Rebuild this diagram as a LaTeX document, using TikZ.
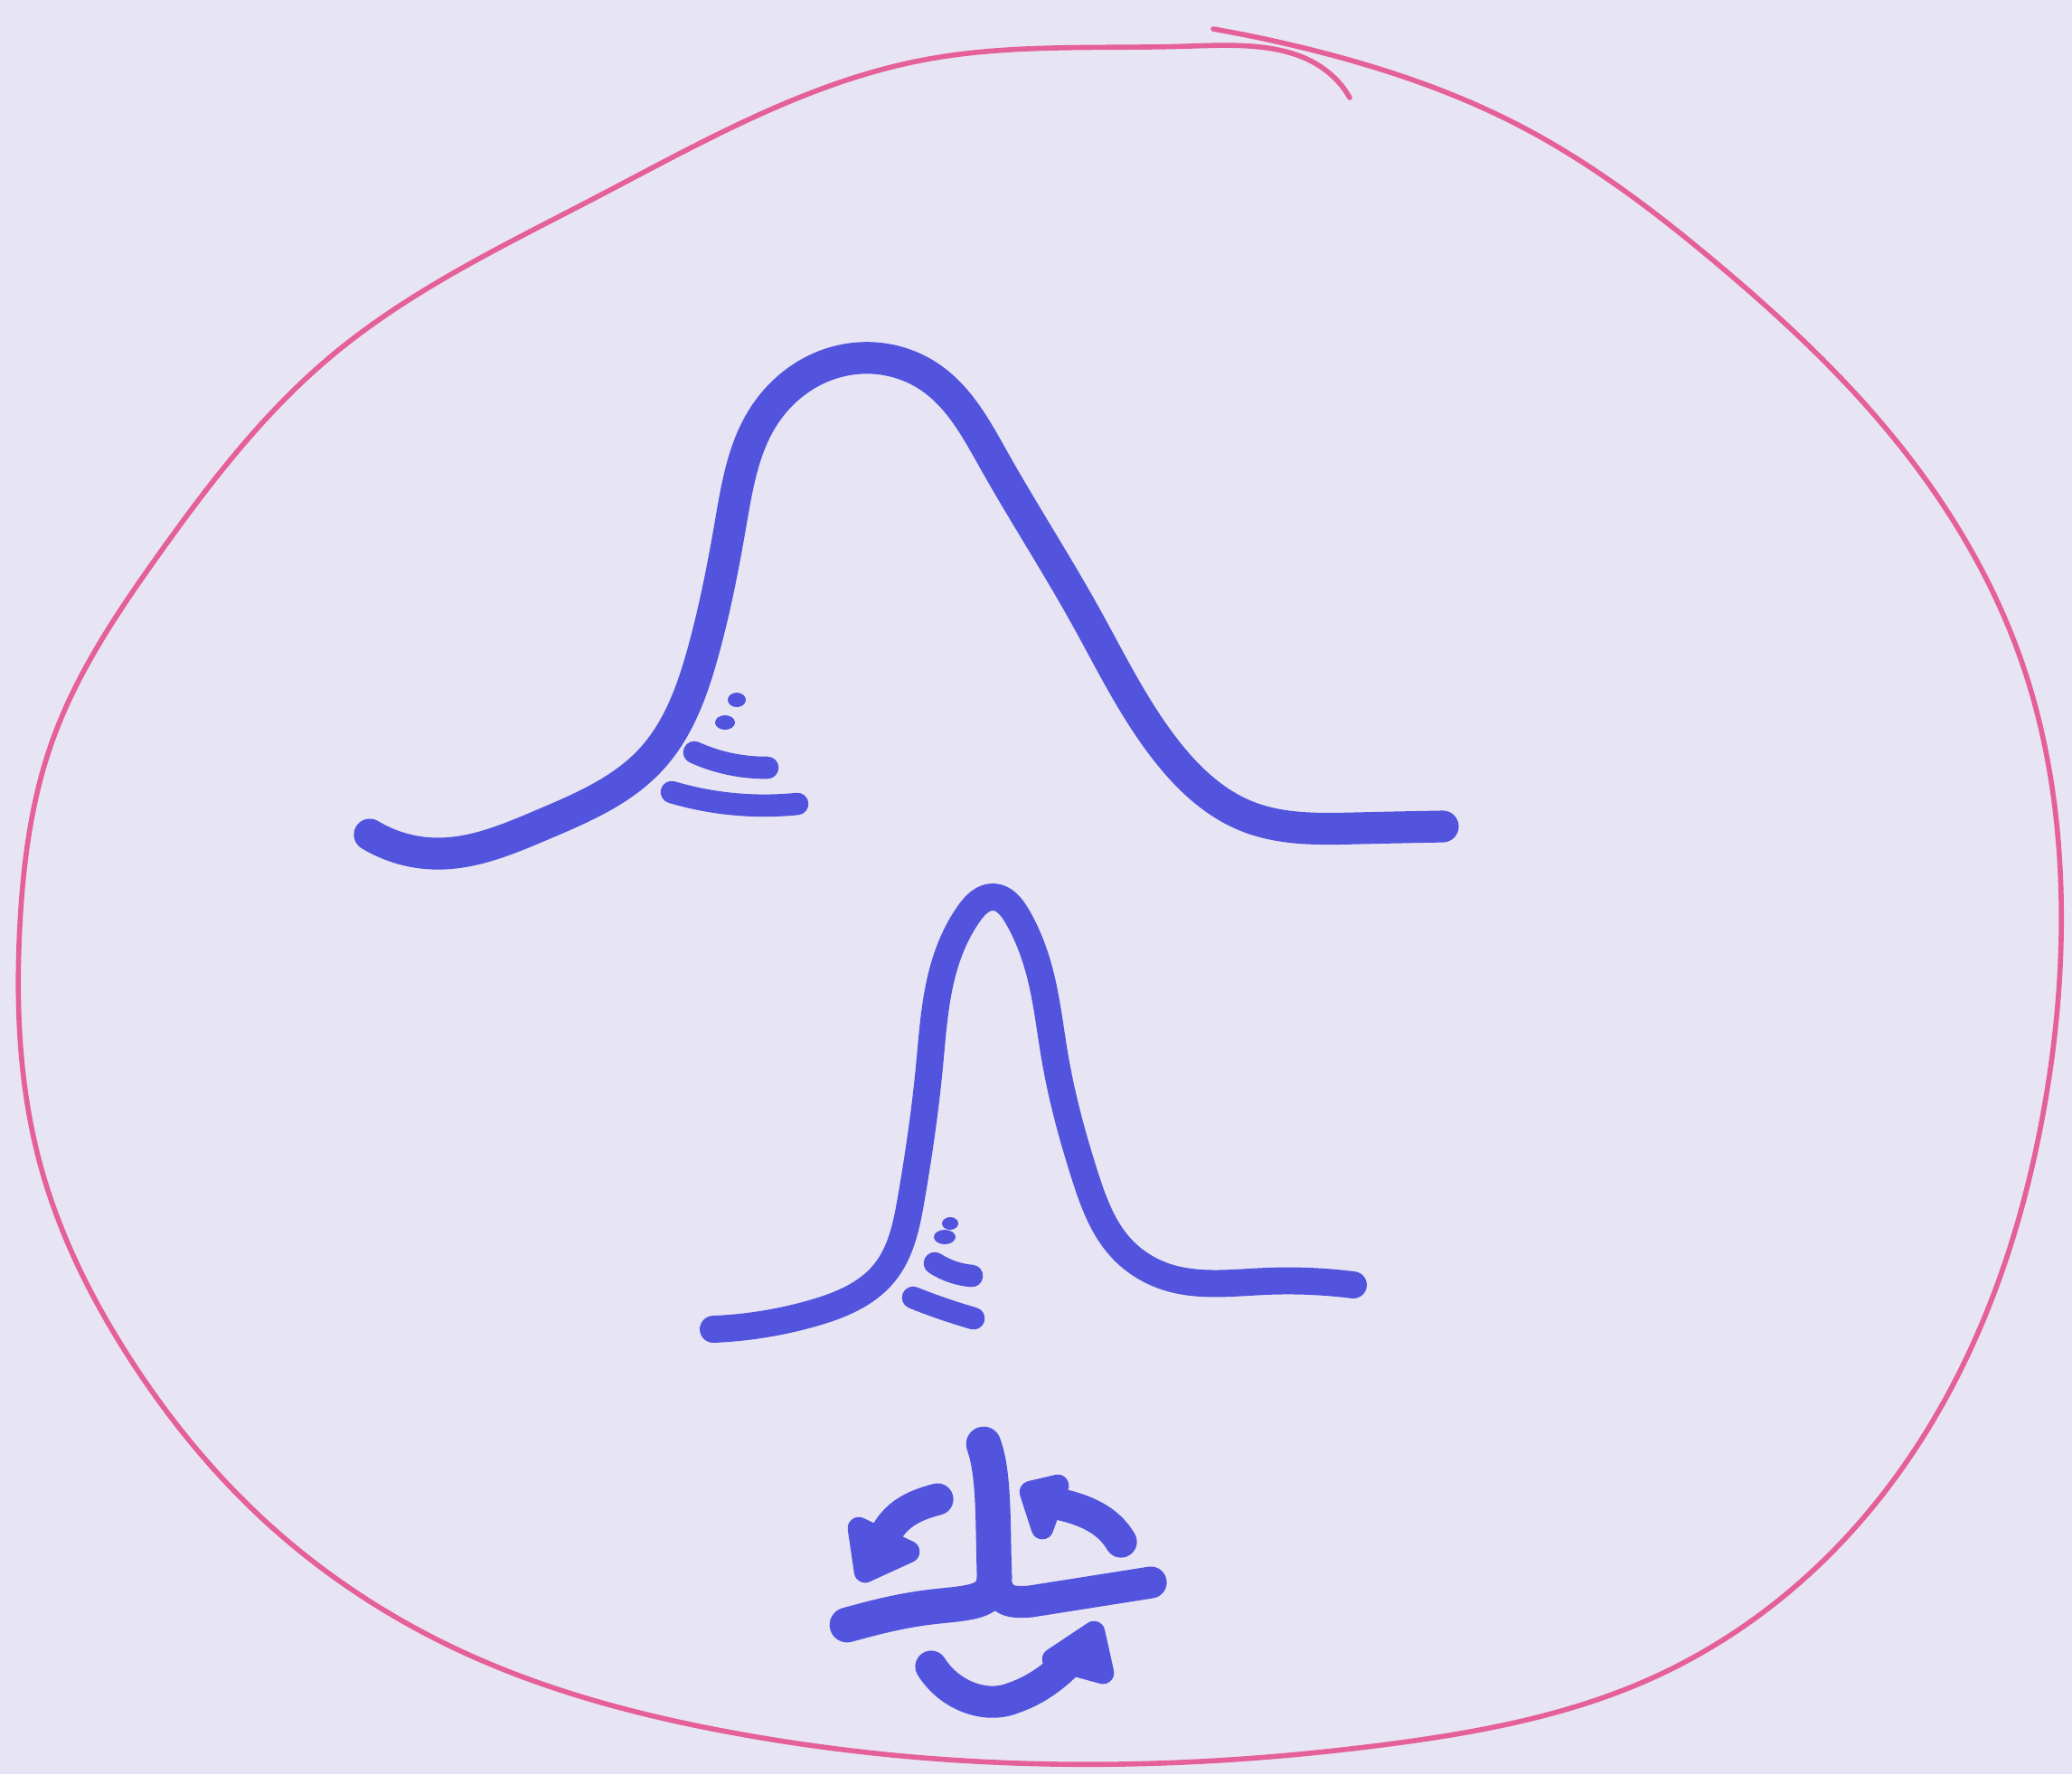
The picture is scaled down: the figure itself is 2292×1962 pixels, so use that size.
\documentclass[tikz,border=0pt]{standalone}
\usetikzlibrary{hobby}
\definecolor{paper}{RGB}{231,229,244}
\definecolor{pinkpen}{RGB}{228,96,150}
\definecolor{bluepen}{RGB}{82,84,222}
\tikzset{
  pen/.style={draw=bluepen, line width=10pt, line cap=round, line join=round},
  thinpen/.style={draw=bluepen, line width=7pt, line cap=round, line join=round, use Hobby shortcut},
  circlepen/.style={draw=pinkpen, line width=1.6pt, line cap=round, use Hobby shortcut},
  headfill/.style={fill=bluepen, draw=bluepen, line width=7pt, line join=round}
}
\begin{document}
\begin{tikzpicture}[x={(0.01cm,0)}, y={(0,-0.01cm)}]
\fill[paper] (0,0) rectangle (2292,1962);
\useasboundingbox (0,0) rectangle (2292,1962);
% pink circle
\draw[circlepen] (1342,32) .. (1462,58) .. (1681,139) .. (1900,292) .. (2105,497) .. (2236,731) .. (2280,994)
 .. (2258,1242) .. (2193,1462) .. (2046,1696) .. (1827,1856) .. (1535,1929) .. (1169,1951) .. (804,1915)
 .. (512,1827) .. (292,1681) .. (146,1506) .. (44,1286) .. (22,1023) .. (58,819) .. (175,614) .. (365,395)
 .. (658,219) .. (1023,66) .. (1316,51) .. (1480,90) .. (1493,108);
% upper bell curve
\draw[pen, use Hobby shortcut] (409,923) .. (482,944) .. (600,912) .. (720,840) .. (778,720) .. (808,580)
 .. (845,460) .. (935,398) .. (1030,418) .. (1100,510) .. (1200,680) .. (1290,830) .. (1380,903)
 .. (1500,916) .. (1596,914);
% marks near upper curve
\fill[bluepen] (815,774) ellipse [x radius=10, y radius=8];
\fill[bluepen] (802,799) ellipse [x radius=11, y radius=8];
\draw[thinpen] (768,832) .. (808,845) .. (849,849);
\draw[thinpen] (743,876) .. (809,889) .. (882,889);
% lower bell curve
\draw[pen, line width=8.5pt, use Hobby shortcut] (789,1470) .. (900,1452) .. (978,1408) .. (1008,1325)
 .. (1028,1180) .. (1044,1070) .. (1072,1010) .. (1099,992) .. (1125,1013) .. (1150,1075) .. (1167,1170)
 .. (1200,1300) .. (1240,1380) .. (1290,1412) .. (1400,1417) .. (1497,1421);
% marks near lower curve
\fill[bluepen] (1051,1353) ellipse [x radius=9, y radius=7];
\fill[bluepen] (1045,1368) ellipse [x radius=12, y radius=8];
\draw[thinpen] (1034,1397) .. (1055,1407) .. (1075,1411);
\draw[thinpen] (1010,1435) .. (1045,1448) .. (1077,1458);
% bottom symbol
\draw[pen, line width=11pt] (1088,1597) .. controls (1100,1630) and (1098,1680) .. (1100,1745);
\draw[pen, line width=11pt] (1100,1745) .. controls (1098,1770) and (1080,1772) .. (1040,1776)
 .. controls (1000,1780) and (970,1788) .. (937,1797);
\draw[pen] (1100,1745) .. controls (1105,1770) and (1115,1773) .. (1140,1771) -- (1273,1750);
% arrows
\draw[pen] (1037,1658) .. controls (1010,1665) and (990,1675) .. (978,1700);
\filldraw[headfill] (950,1690) -- (957,1738) -- (1005,1716) -- cycle;
\draw[pen] (1240,1705) .. controls (1225,1680) and (1200,1668) .. (1155,1660);
\filldraw[headfill] (1140,1650) -- (1170,1643) -- (1153,1690) -- cycle;
\draw[pen] (1030,1843) .. controls (1050,1875) and (1090,1890) .. (1120,1878)
 .. controls (1150,1868) and (1170,1850) .. (1185,1835);
\filldraw[headfill] (1165,1835) -- (1210,1805) -- (1220,1850) -- cycle;
\end{tikzpicture}
\end{document}
